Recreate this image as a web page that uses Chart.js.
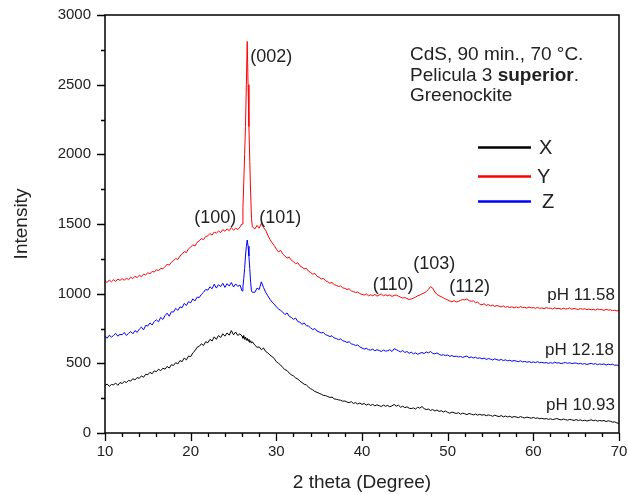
<!DOCTYPE html>
<html>
<head>
<meta charset="utf-8">
<script src="https://cdn.jsdelivr.net/npm/chart.js@4.4.1/dist/chart.umd.min.js"></script>
<style>
  html, body { margin: 0; padding: 0; background: #fff; }
  canvas { display: block; }
</style>
</head>
<body>
<canvas id="xrd" width="628" height="495"></canvas>
<script>
// XRD patterns of CdS films

const twoTheta = [
  10,10.25,10.5,10.75, 11,11.25,11.5,11.75, 12,12.25,12.5,12.75, 13,13.25,13.5,13.75,
  14,14.25,14.5,14.75, 15,15.25,15.5,15.75, 16,16.25,16.5,16.75, 17,17.25,17.5,17.75,
  18,18.25,18.5,18.75, 19,19.25,19.5,19.75, 20,20.25,20.5,20.75, 21,21.25,21.5,21.75,
  22,22.25,22.5,22.75, 23,23.25,23.5,23.75, 24,24.25,24.5,24.75, 25,25.25,25.5,25.75,
  26,26.1,26.2,26.3,26.4,26.5,26.6,26.7,26.8,26.9,27,27.1,27.2,
  27.5,27.75,
  28,28.25,28.5,28.75, 29,29.25,29.5,29.75, 30,30.25,30.5,30.75, 31,31.25,31.5,31.75,
  32,32.25,32.5,32.75, 33,33.25,33.5,33.75, 34,34.25,34.5,34.75, 35,35.25,35.5,35.75,
  36,36.25,36.5,36.75, 37,37.25,37.5,37.75, 38,38.25,38.5,38.75, 39,39.25,39.5,39.75,
  40,40.25,40.5,40.75, 41,41.25,41.5,41.75, 42,42.25,42.5,42.75, 43,43.25,43.5,43.75,
  44,44.25,44.5,44.75, 45,45.25,45.5,45.75, 46,46.25,46.5,46.75, 47,47.25,47.5,47.75,
  48,48.25,48.5,48.75, 49,49.25,49.5,49.75, 50,50.25,50.5,50.75, 51,51.25,51.5,51.75,
  52,52.25,52.5,52.75, 53,53.25,53.5,53.75, 54,54.25,54.5,54.75, 55,55.25,55.5,55.75,
  56,56.25,56.5,56.75, 57,57.25,57.5,57.75, 58,58.25,58.5,58.75, 59,59.25,59.5,59.75,
  60,60.25,60.5,60.75, 61,61.25,61.5,61.75, 62,62.25,62.5,62.75, 63,63.25,63.5,63.75,
  64,64.25,64.5,64.75, 65,65.25,65.5,65.75, 66,66.25,66.5,66.75, 67,67.25,67.5,67.75,
  68,68.25,68.5,68.75, 69,69.25,69.5,69.75,
  70
];

// X : pH 10.93
const intensityX = [
  338,352,335,348, 346,358,342,362, 355,370,362,378, 372,390,381,398,
  392,410,400,422, 418,436,425,446, 440,458,447,465, 458,478,466,490,
  485,505,496,520, 512,538,525,552, 548,575,590,615, 622,640,628,655,
  648,672,660,690, 672,700,685,712, 695,718,702,735, 705,725,700,712,
  695,680,700,672,688,665,680,660,672,650,662,645,655,
  630,615,
  618,598,610,585, 575,560,548,535, 512,500,488,470, 455,448,430,418,
  410,395,388,372, 362,350,345,330, 318,310,298,292, 285,278,270,268,
  262,255,258,245, 242,238,235,228, 230,222,218,225, 212,218,208,215,
  205,212,200,208, 198,205,195,202, 196,190,200,192, 198,188,195,205,
  192,200,185,192, 182,188,178,175, 180,172,185,178, 190,175,168,172,
  162,168,158,165, 155,160,150,158, 148,142,150,145, 140,146,135,142,
  138,132,140,135, 130,136,128,134, 128,132,124,130, 126,120,128,122,
  118,125,116,122, 115,120,112,118, 115,110,118,112, 108,114,110,106,
  112,105,108,102, 106,100,104,98, 102,96,100,104, 98,94,100,96,
  92,98,94,90, 96,90,94,88, 92,86,90,95, 88,92,85,90,
  86,90,82,88, 84,78,80,72,
  70
];

// Y : pH 11.58
const intensityY = [
  1092,1080,1098,1085, 1100,1088,1105,1095, 1108,1096,1112,1100, 1118,1108,1125,1115,
  1132,1122,1140,1135, 1150,1142,1160,1155, 1172,1165,1182,1178, 1195,1210,1205,1225,
  1238,1252,1245,1270, 1285,1302,1295,1322, 1335,1350,1342,1368, 1380,1395,1388,1410,
  1415,1432,1420,1442, 1435,1450,1438,1460, 1448,1465,1452,1475, 1455,1470,1460,1478,
  1500,1620,1800,2000,2200,2500,2810,2500,2200,1950,1720,1540,1480,
  1465,1490,
  1470,1505,1475,1455, 1420,1390,1365,1345, 1320,1300,1310,1285, 1270,1255,1262,1240,
  1230,1215,1222,1200, 1190,1178,1182,1162, 1152,1140,1145,1125, 1118,1105,1110,1092,
  1085,1075,1080,1065, 1060,1052,1055,1042, 1038,1030,1035,1020, 1015,1008,1012,1000,
  995,990,998,985, 992,985,995,982, 990,998,985,992, 985,992,980,988,
  990,982,975,968, 972,965,958,962, 968,975,985,990, 998,1005,1015,1030,
  1050,1040,1012,995, 985,978,970,962, 955,948,942,950, 940,945,952,958,
  955,962,950,945, 948,935,940,925, 920,928,915,922, 912,918,908,915,
  910,905,912,902, 908,900,906,898, 905,898,908,900, 902,896,904,898,
  900,895,902,894, 898,892,900,895, 896,890,898,892, 895,888,896,890,
  892,898,888,894, 890,886,894,888, 892,885,890,884, 888,882,890,885,
  886,880,888,882, 884,878,882,876,
  880
];

// Z : pH 12.18
const intensityZ = [
  695,680,702,688, 700,715,695,708, 705,722,700,715, 728,712,735,722,
  745,760,740,772, 768,790,775,800, 812,798,830,815, 842,860,838,870,
  868,895,880,905, 900,930,915,942, 935,962,948,975, 972,995,1010,1030,
  1025,1050,1035,1068, 1040,1065,1050,1075, 1045,1072,1055,1080, 1048,1070,1052,1062,
  1020,1050,1110,1180,1270,1340,1385,1340,1270,1180,1080,1020,1010,
  1010,1040,
  1030,1085,1045,1010, 985,960,940,925, 905,890,880,868, 850,862,838,830,
  815,825,800,795, 780,790,770,768, 755,742,750,732, 725,718,722,705,
  700,692,698,682, 678,670,675,662, 658,650,655,640, 635,628,632,618,
  610,602,608,598, 595,602,590,598, 592,585,595,588, 590,598,585,605,
  598,590,582,592, 578,585,572,580, 568,575,565,572, 578,570,582,575,
  585,572,568,575, 565,558,562,555, 560,550,556,548, 552,545,550,542,
  548,552,540,546, 538,544,535,540, 532,538,528,534, 530,524,532,526,
  522,528,520,525, 518,522,515,520, 516,512,518,510, 514,508,512,506,
  510,505,512,504, 508,502,506,500, 505,500,508,502, 504,498,502,506,
  500,504,498,502, 502,496,500,494, 498,492,496,500, 494,498,490,496,
  492,496,488,494, 490,494,486,488,
  484
];

const seriesNames = ['X', 'Y', 'Z'];
const seriesColors = ['#000000', '#ff0000', '#0000ff'];
const seriesValues = [intensityX, intensityY, intensityZ];

const peakLabels = ['(002)', '(100)', '(101)', '(110)', '(103)', '(112)'];
const phLabels = ['pH 11.58', 'pH 12.18', 'pH 10.93'];

const FONT = '"Liberation Sans", Arial, sans-serif';
const INK = '#222';

// where the texts sit, in data units (2 theta, intensity)
const peakSpots = [[26.95, 2700], [20.42, 1543], [28.01, 1543], [41.25, 1062], [45.99, 1211], [50.19, 1046]];
const phSpots = [[69.53, 990], [69.42, 591], [69.53, 201]];

seriesValues.forEach((v, i) => {
  if (v.length !== twoTheta.length) console.error('length mismatch', seriesNames[i], v.length, twoTheta.length);
});

const decor = {
  id: 'decor',
  afterDatasetsDraw(chart) {
    const { ctx, chartArea: a, scales: { x, y } } = chart;
    ctx.save();

    // frame
    ctx.strokeStyle = '#000';
    ctx.lineWidth = 1.5;
    ctx.strokeRect(a.left, a.top, a.right - a.left, a.bottom - a.top);

    // outward ticks, major + minor
    ctx.lineWidth = 1.3;
    ctx.beginPath();
    for (let v = x.min; v <= x.max; v += 2) {
      const px = Math.round(x.getPixelForValue(v)) + 0.5;
      const len = v % 10 === 0 ? 8 : 4;
      ctx.moveTo(px, a.bottom);
      ctx.lineTo(px, a.bottom + len);
    }
    for (let v = y.min; v <= y.max; v += 250) {
      const py = Math.round(y.getPixelForValue(v)) + 0.5;
      const len = v % 500 === 0 ? 8 : 4;
      ctx.moveTo(a.left, py);
      ctx.lineTo(a.left - len, py);
    }
    ctx.stroke();

    // peak indices
    ctx.fillStyle = INK;
    ctx.font = '18px ' + FONT;
    ctx.textBaseline = 'middle';
    ctx.textAlign = 'left';
    peakLabels.forEach((t, i) => {
      ctx.fillText(t, x.getPixelForValue(peakSpots[i][0]), y.getPixelForValue(peakSpots[i][1]));
    });

    // pH tags
    ctx.font = '17px ' + FONT;
    ctx.textAlign = 'right';
    phLabels.forEach((t, i) => {
      ctx.fillText(t, x.getPixelForValue(phSpots[i][0]), y.getPixelForValue(phSpots[i][1]));
    });

    // sample note, top right
    ctx.textAlign = 'left';
    ctx.textBaseline = 'alphabetic';
    ctx.font = '19px ' + FONT;
    const nx = 410;
    ctx.fillText('CdS, 90 min., 70 °C.', nx, 60);
    let cx = nx;
    ctx.fillText('Pelicula 3 ', cx, 81);
    cx += ctx.measureText('Pelicula 3 ').width;
    ctx.font = 'bold 19px ' + FONT;
    ctx.fillText('superior', cx, 81);
    cx += ctx.measureText('superior').width;
    ctx.font = '19px ' + FONT;
    ctx.fillText('.', cx, 81);
    ctx.fillText('Greenockite', nx, 101);

    // legend
    const legY = [147.5, 176.5, 201.5];
    const legTx = [539, 537, 542];
    ctx.lineWidth = 2.6;
    ctx.font = '20px ' + FONT;
    ctx.textBaseline = 'middle';
    seriesNames.forEach((n, i) => {
      ctx.strokeStyle = seriesColors[i];
      ctx.beginPath();
      ctx.moveTo(478, legY[i]);
      ctx.lineTo(531, legY[i]);
      ctx.stroke();
      ctx.fillStyle = INK;
      ctx.fillText(n, legTx[i], legY[i] + 1);
    });

    ctx.restore();
  }
};

new Chart(document.getElementById('xrd'), {
  type: 'line',
  data: {
    datasets: seriesNames.map((n, i) => ({
      label: n,
      data: twoTheta.map((t, k) => ({ x: t, y: seriesValues[i][k] })),
      borderColor: seriesColors[i],
      borderWidth: 1,
      pointRadius: 0,
      tension: 0,
      fill: false
    }))
  },
  options: {
    responsive: false,
    animation: false,
    layout: { padding: { top: 15, right: 9, left: 0, bottom: 0 } },
    plugins: { legend: { display: false }, tooltip: { enabled: false } },
    scales: {
      x: {
        type: 'linear',
        min: 10,
        max: 70,
        grid: { display: false, drawTicks: false },
        border: { display: false },
        ticks: { stepSize: 10, padding: 10, color: INK, font: { family: FONT, size: 15 }, callback: v => String(v) },
        title: { display: true, text: '2 theta (Degree)', color: INK, padding: { top: 0, bottom: 1 }, font: { family: FONT, size: 19 } },
        afterFit(s) { s.height = 62; s.paddingLeft = 0; s.paddingRight = 0; }
      },
      y: {
        type: 'linear',
        min: 0,
        max: 3000,
        grid: { display: false, drawTicks: false },
        border: { display: false },
        ticks: { stepSize: 500, padding: 14, color: INK, font: { family: FONT, size: 15 }, callback: v => String(v) },
        title: { display: true, text: 'Intensity', color: INK, padding: { top: 10, bottom: 0 }, font: { family: FONT, size: 19 } },
        afterFit(s) { s.width = 105; s.paddingTop = 0; s.paddingBottom = 0; }
      }
    }
  },
  plugins: [decor]
});
</script>
</body>
</html>
